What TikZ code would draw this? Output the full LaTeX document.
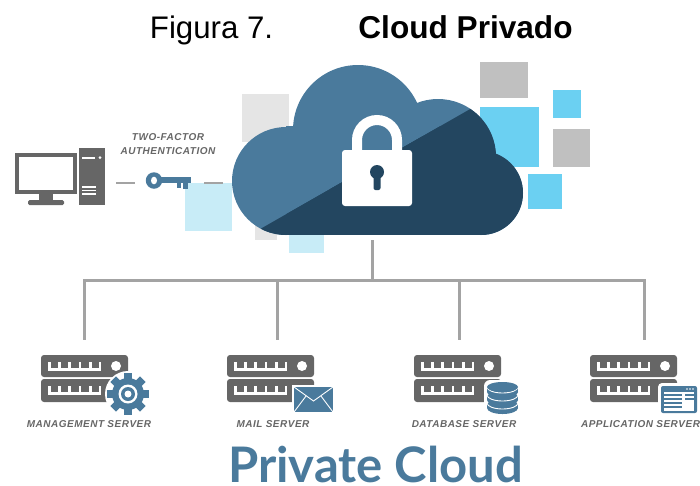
\documentclass[tikz,border=0pt]{standalone}
\usepackage{fontspec}
\setmainfont{Liberation Sans}
\newfontfamily\tagfont[LetterSpace=5]{Liberation Sans}
\newfontfamily\logofont{Lato}
\definecolor{colRack}{HTML}{666666}
\definecolor{colLine}{HTML}{A3A3A3}
\definecolor{colBlue}{HTML}{4A7A9C}
\definecolor{colDark}{HTML}{234660}
\definecolor{colSky}{HTML}{6BD0F2}
\definecolor{colPale}{HTML}{C8ECF7}
\definecolor{colGrey}{HTML}{C0C0C0}
\definecolor{colMist}{HTML}{E5E5E5}
\tikzset{
  tagtext/.style={inner sep=0pt,text=colRack,font=\fontsize{10}{11}\selectfont\tagfont\bfseries\itshape},
  treeline/.style={colLine,line width=3pt},
  dashline/.style={colLine,line width=2.8pt},
  server/.pic={
    \fill[colRack,rounded corners=3pt] (0,0) rectangle (87,22);
    \fill[colRack,rounded corners=3pt] (0,24) rectangle (87,47);
    \foreach \ya in {7,31}{
      \fill[white] (7,\ya) rectangle (60,\ya+9);
      \foreach \xa in {9.5,19.8,30.1,40.4,50.7}
        \fill[colRack] (\xa,\ya) rectangle (\xa+7.6,\ya+6);
    }
    \fill[white] (75,11) circle (5);
  }
}
\begin{document}
\begin{tikzpicture}[x=1pt,y=-1pt]

\useasboundingbox (0,0) rectangle (700,485);

\node[inner sep=0pt,anchor=base,font=\fontsize{31.2}{34}\selectfont]
      (figlabel) at (211.5,38) {Figura 7.};

\node[inner sep=0pt,anchor=base,font=\fontsize{31.6}{34}\selectfont\bfseries]
      (figtitle) at (465.5,38) {Cloud Privado};

\fill[colMist] (242,94) rectangle (289,142);
\fill[colMist] (255,200) rectangle (277,240);
\fill[colPale] (185,183) rectangle (232,231);
\fill[colPale] (289,210) rectangle (324,253);
\fill[colGrey] (480,62) rectangle (528,98);
\fill[colSky] (480,107) rectangle (539,167);
\fill[colSky] (553,90) rectangle (581,118);
\fill[colGrey] (553,129) rectangle (590,167);
\fill[colSky] (528,174) rectangle (562,209);

\def\cloudShape{
  \fill (286,181) circle (54);
  \fill (358,130) circle (65);
  \fill (438,157) circle (58);
  \fill (481,193) circle (42);
  \fill (286,126) rectangle (481,235);
}

\begin{scope}[colBlue]
  \cloudShape
\end{scope}
\begin{scope}[colDark]
  \clip (248,236) -- (472,108) -- (540,108) -- (540,240) -- (248,240) -- cycle;
  \cloudShape
\end{scope}

\draw[white,line width=10pt]
      (357,152) -- (357,140) arc[start angle=180,end angle=360,radius=20] -- (397,152);
\fill[white,rounded corners=3pt] (342,150) rectangle (412,206);
\fill[colDark] (377,172) circle (7);
\fill[colDark,rounded corners=2pt] (373.5,172) rectangle (380.5,190);

\fill[colRack] (15,153) rectangle (77,194);
\fill[white] (19,157) rectangle (73,190);
\fill[colRack] (39,194) rectangle (53,200);
\fill[colRack,rounded corners=1.5pt] (28,200) rectangle (64,205);
\node[draw=none,fill=colRack,inner sep=0pt,minimum width=26pt,minimum height=57pt]
      (tower) at (92,176.5) {};
\fill[white] (82,156.5) rectangle (95,158.5);
\fill[white] (100,157.5) circle (1.5);
\foreach \yv in {187,190.5,194}
  \fill[white] (82,\yv-0.7) rectangle (96,\yv+0.7);

\node[tagtext] (twofactor) at (168,137) {TWO-FACTOR};
\node[tagtext] (authen) at (168,151) {AUTHENTICATION};

\node[circle,fill=colBlue,inner sep=0pt,minimum size=16.5pt]
      (key) at (154,180.5) {};
\fill[white] (154,180.5) ellipse (3 and 3.8);
\fill[colBlue] (161,177) rectangle (191,183);
\fill[colBlue] (177,183) rectangle (181,188);
\fill[colBlue] (183,183) rectangle (188,189);

\coordinate (dashA) at (116,183);
\coordinate (dashB) at (135,183);
\coordinate (dashC) at (204,183);
\coordinate (dashD) at (223,183);
\draw[dashline] (dashA) -- (dashB);
\draw[dashline] (dashC) -- (dashD);

\coordinate (root) at (372,240);
\coordinate (bus) at (372,280);
\coordinate (dropA) at (84,340);
\coordinate (dropB) at (277,340);
\coordinate (dropC) at (459,340);
\coordinate (dropD) at (644,340);
\draw[treeline] (root) -- (bus);
\draw[treeline] (bus) -| (dropA);
\draw[treeline] (bus) -| (dropB);
\draw[treeline] (bus) -| (dropC);
\draw[treeline] (bus) -| (dropD);

\pic at (41,355) {server};
\pic at (227,355) {server};
\pic at (414,355) {server};
\pic at (590,355) {server};

\fill[white] (128,394) circle (23);
\foreach \an in {0,45,...,315}
  \fill[colBlue,rotate around={\an:(128,394)}] (124,373) rectangle (132,380);
\fill[colBlue] (128,394) circle (16);
\fill[white] (128,394) circle (9.5);
\fill[colBlue] (128,394) circle (7);
\fill[white] (128,394) circle (3.5);

\fill[white] (292,385) rectangle (335,414);
\fill[colBlue] (294,387) rectangle (333,412);
\draw[white,line width=0.9pt] (294,387) -- (313.5,401) -- (333,387);
\draw[white,line width=0.9pt] (294,412) -- (306,396);
\draw[white,line width=0.9pt] (333,412) -- (321,396);

\fill[white,rounded corners=6pt] (484,380) rectangle (521,417);
\foreach \yd in {408,400,392}{
  \fill[colBlue] (487,\yd-5) rectangle (518,\yd);
  \fill[colBlue] (502.5,\yd) ellipse (15.5 and 6);
  \draw[white,line width=0.9pt] (487,\yd-5) arc[start angle=180,end angle=360,x radius=15.5,y radius=-6];
}
\fill[colBlue] (502.5,387) ellipse (15.5 and 5);

\fill[white,rounded corners=4pt] (658,383) rectangle (700,416);
\fill[colBlue,rounded corners=2pt] (661,386) rectangle (697,413);
\fill[white] (664,392) rectangle (694,410.5);
\foreach \yb in {394,398,402,406}
  \fill[colBlue] (664,\yb) rectangle (682,\yb+1.6);
\foreach \yb in {394,398}
  \fill[colBlue] (685,\yb) rectangle (694,\yb+1.6);
\foreach \xb in {687,690,693}
  \fill[white] (\xb,389) circle (0.8);

\node[tagtext] (mgmt) at (89,424) {MANAGEMENT SERVER};
\node[tagtext] (mail) at (273,424) {MAIL SERVER};
\node[tagtext] (dbase) at (464,424) {DATABASE SERVER};
\node[tagtext] (appsrv) at (640.5,424) {APPLICATION SERVER};

\node[inner sep=0pt,anchor=base,text=colBlue,font=\fontsize{49}{50}\selectfont\logofont\bfseries]
      (brand) at (375.5,482) {Private Cloud};

\end{tikzpicture}
\end{document}
